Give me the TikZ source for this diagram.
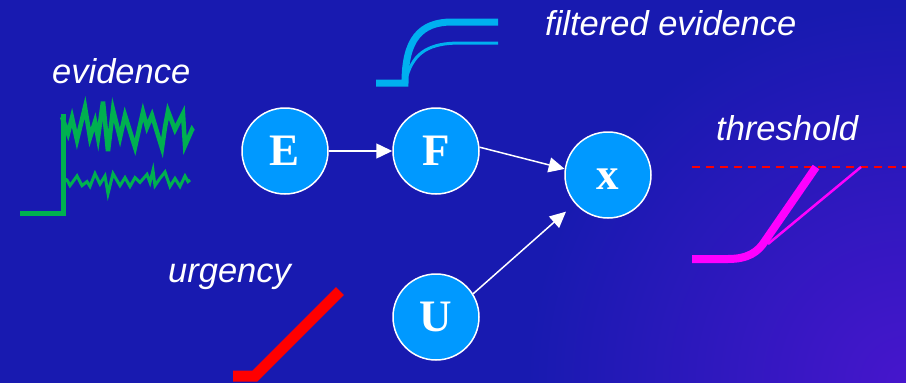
\documentclass[tikz,border=0pt]{standalone}
\usepackage{fontspec}
\setmainfont{Liberation Serif}
\setsansfont{Liberation Sans}
\usetikzlibrary{arrows.meta}
\definecolor{bgblue}{RGB}{24,26,176}
\definecolor{bgpurple}{RGB}{70,22,204}
\definecolor{nodeblue}{RGB}{0,153,255}
\definecolor{evgreen}{RGB}{0,176,80}
\definecolor{filtcyan}{RGB}{0,176,240}
\definecolor{thrmag}{RGB}{255,0,255}
\definecolor{urgred}{RGB}{255,0,0}
\tikzset{
  var/.style={circle, fill=nodeblue, draw=white, line width=1.5pt, minimum size=86pt, inner sep=0pt,
    text=white, font=\fontsize{45}{45}\selectfont\bfseries},
  lab/.style={text=white, anchor=base west, inner sep=0pt, font=\fontsize{34.5}{34.5}\selectfont\sffamily\itshape},
  link/.style={draw=white, line width=1.5pt, -{Triangle[length=16pt,width=15pt]}},
  trace/.style={evgreen, line join=miter, miter limit=8},
}
\begin{document}
\begin{tikzpicture}[x=1pt,y=-1pt]
\useasboundingbox (0,0) rectangle (906,383);
\fill[bgblue] (0,0) rectangle (906,383);
\begin{scope}
\clip (0,0) rectangle (906,383);
\shade[inner color=bgpurple, outer color=bgblue] (906,383) circle[radius=380];
\end{scope}

% labels
\node[lab] (tev) at (52,83) {evidence};
\node[lab] (tfilt) at (545,35) {filtered evidence};
\node[lab] (tthr) at (716,140) {threshold};
\node[lab] (turg) at (168,282) {urgency};

% evidence plot
\draw[evgreen, line width=5pt, line join=miter] (20,213) -- (63,213) -- (63,114);
\draw[trace, line width=4.5pt]
  (62,117) -- (68,133.6) -- (72,117.6) -- (77,140) -- (85,107.2) -- (90,137.6) -- (95,121.6) -- (98,137.6)
  -- (103,101.6) -- (108,151.2) -- (113,109.6) -- (120,137.6) -- (125,115.2) -- (135,147.2) -- (143,112)
  -- (147,127.2) -- (152,115.2) -- (158,135.2) -- (162,148) -- (165,127.2) -- (168,111.2) -- (175,129.6)
  -- (183,113.6) -- (185,145.6) -- (192,129.6) -- (193,131.2);
\draw[trace, line width=3pt]
  (64,178.4) -- (67,180) -- (70,185.6) -- (77,176) -- (82,185.6) -- (87,181.6) -- (90,186.4) -- (95,173.6) -- (100,184)
  -- (105,176) -- (108,193.6) -- (113,173.6) -- (120,185.6) -- (125,177.6) -- (130,186.4) -- (135,177.6) -- (140,182.4)
  -- (147,174.4) -- (150,182.4) -- (153,170.4) -- (155,185.6) -- (160,178.4) -- (165,172) -- (170,186.4) -- (175,178.4)
  -- (180,186.4) -- (185,176) -- (188,181.6) -- (190,180);

% filtered evidence plot
\draw[filtcyan, line width=7pt] (376,83) -- (405,83) .. controls (405,40) and (420,22) .. (452,22) -- (498,22);
\draw[filtcyan, line width=3pt] (407,76) .. controls (414,52) and (430,43) .. (460,43) -- (498,43);

% threshold plot
\draw[urgred, line width=2pt, dash pattern=on 8pt off 6pt] (692,167) -- (906,167);
\draw[thrmag, line width=8pt] (692,259) -- (728,259) .. controls (748,259) and (758,252) .. (765,241) -- (816,167);
\draw[thrmag, line width=2.5pt] (768,244) -- (861,167);

% urgency plot
\draw[urgred, line width=11pt, line join=miter] (233,376) -- (255,376) -- (340,291);

% nodes
\node[var] (E) at (285,151) {\vphantom{E}E};
\node[var] (F) at (436,151) {\vphantom{E}F};
\node[var] (x) at (608,175) {\vphantom{E}x};
\node[var] (U) at (436,317) {\vphantom{E}U};

\draw[link] (E) -- (F);
\draw[link] (F.5) -- (x.172);
\draw[link, shorten >=12pt] (U.32) -- (x.221);
\end{tikzpicture}
\end{document}
